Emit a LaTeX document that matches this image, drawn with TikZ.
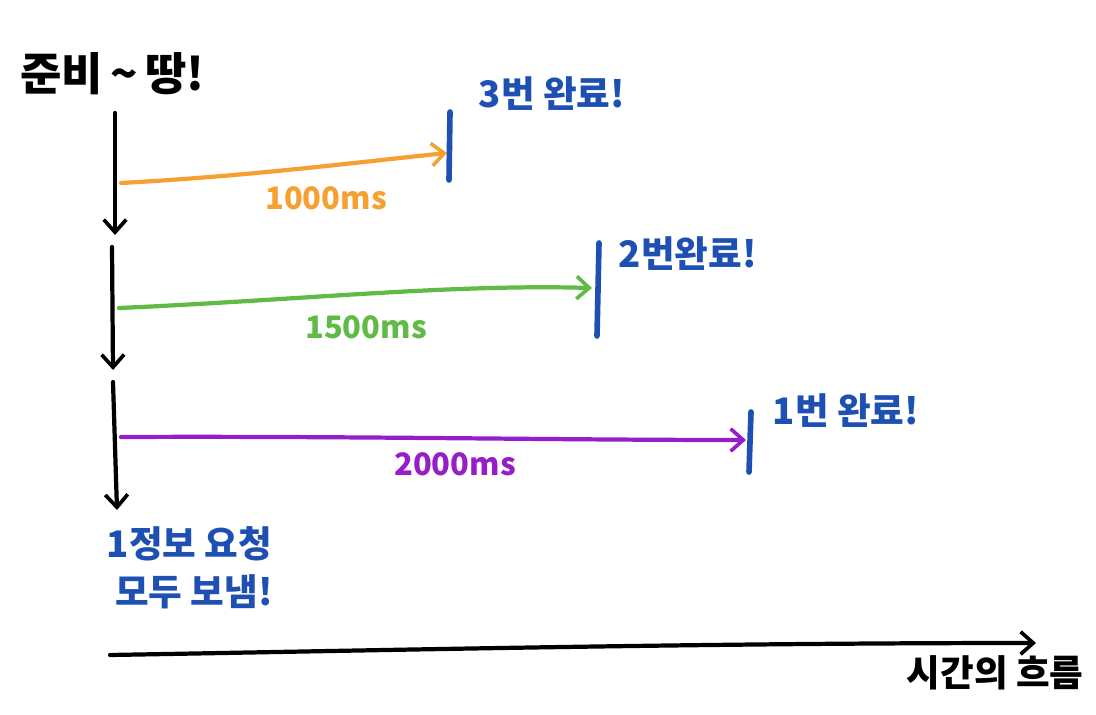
\documentclass[tikz,border=0pt]{standalone}
\usepackage{fontspec}
\setmainfont{Noto Sans CJK KR}
\usetikzlibrary{arrows.meta}
\definecolor{tangerine}{RGB}{245,160,48}
\definecolor{grass}{RGB}{96,186,70}
\definecolor{plum}{RGB}{150,30,200}
\definecolor{inkblue}{RGB}{30,80,180}
\tikzset{
  hand/.style={line width=3pt,line cap=round,-{Straight Barb[length=9pt,width=16pt,line width=2.6pt]}},
  donetick/.style={inkblue,line width=4pt,line cap=round},
  donetext/.style={inkblue,font=\fontsize{26}{30}\selectfont\bfseries,anchor=west},
  mslabel/.style={font=\fontsize{22}{26}\selectfont\bfseries}
}
\begin{document}
\begin{tikzpicture}[x=0.025cm,y=-0.025cm]
\useasboundingbox (0,0) rectangle (1096,715);
% start
\node[font=\fontsize{32}{36}\selectfont\bfseries,anchor=west,inner sep=0pt] (start) at (20,74) {준비\,\textasciitilde\,땅!};
\coordinate (s0) at (115,113);
\coordinate (s1) at (115,235);
\coordinate (s2) at (112,247);
\coordinate (s3) at (113,370);
\coordinate (s4) at (113,382);
\coordinate (s5) at (117,510);
\draw[hand] (s0) -- (s1);
\draw[hand] (s2) -- (s3);
\draw[hand] (s4) -- (s5);
\node[inkblue,font=\fontsize{26}{34}\selectfont\bfseries,align=left,anchor=north west] (sent) at (102,522) {1정보 요청\\\ 모두 보냄!};

% requests
\coordinate (a0) at (121,183);
\coordinate (a1) at (447,153);
\coordinate (b0) at (119,308);
\coordinate (b1) at (592,288);
\coordinate (c0) at (121,437);
\coordinate (c1) at (746,440);
\draw[hand,tangerine] (a0) .. controls (250,176) and (350,163) .. (a1);
\draw[hand,grass] (b0) .. controls (300,300) and (450,284) .. (b1);
\draw[hand,plum] (c0) .. controls (350,436) and (550,440) .. (c1);
\node[mslabel,tangerine] (la) at (326,198) {1000ms};
\node[mslabel,grass] (lb) at (366,327) {1500ms};
\node[mslabel,plum] (lc) at (455,464) {2000ms};

% done marks
\draw[donetick] (450,112) -- (449,180);
\draw[donetick] (599,243) -- (597,336);
\draw[donetick] (751,412) -- (749,472);
\node[donetext] (d3) at (474,94) {3번 완료!};
\node[donetext] (d2) at (614,254) {2번완료!};
\node[donetext] (d1) at (768,411) {1번 완료!};

% time axis
\coordinate (t0) at (110,655);
\coordinate (t1) at (1036,643);
\draw[hand] (t0) .. controls (400,650) and (700,643) .. (t1);
\node[font=\fontsize{26}{30}\selectfont\bfseries] (flow) at (995,673) {시간의 흐름};
\end{tikzpicture}
\end{document}
